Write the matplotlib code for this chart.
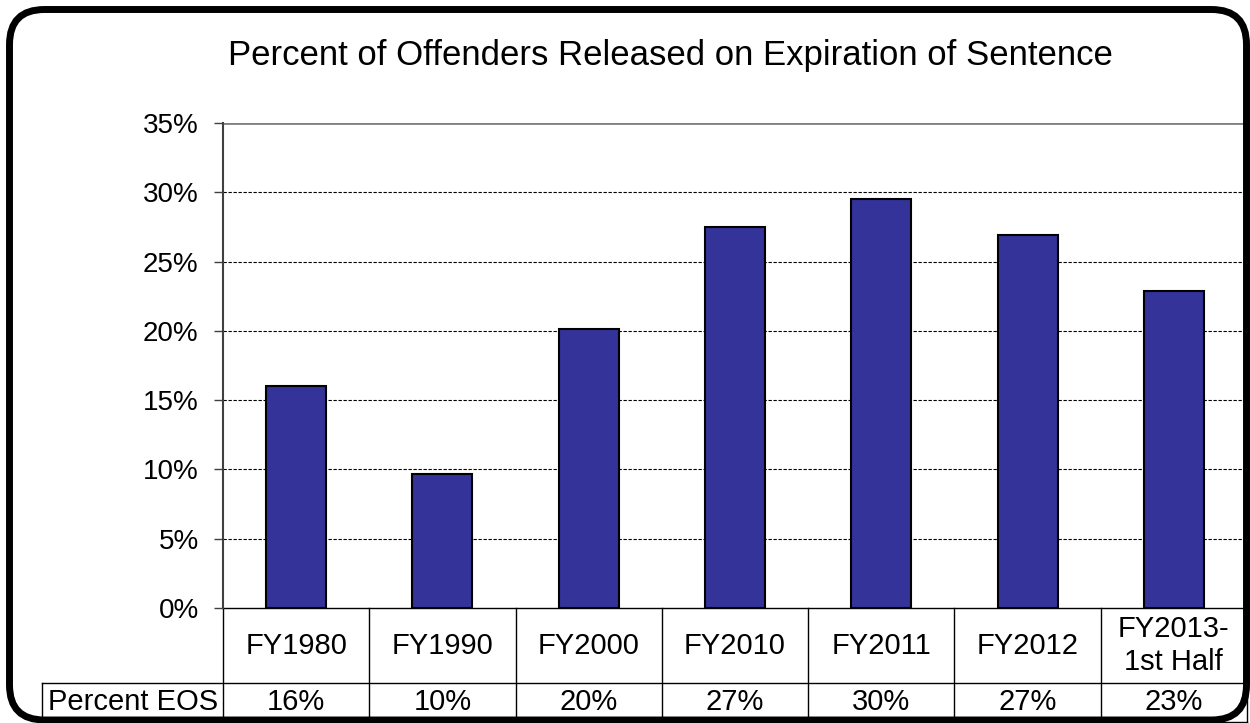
import matplotlib
matplotlib.use('Agg')
import matplotlib.pyplot as plt
from matplotlib.patches import FancyBboxPatch
import matplotlib.transforms as mtransforms

categories = ['FY1980', 'FY1990', 'FY2000', 'FY2010', 'FY2011', 'FY2012', 'FY2013-\n1st Half']
eos_values = [16.0, 9.7, 20.1, 27.5, 29.5, 26.9, 22.9]
eos_labels = ['16%', '10%', '20%', '27%', '30%', '27%', '23%']
yticks = [0, 5, 10, 15, 20, 25, 30, 35]

plt.rcParams['font.family'] = ['Liberation Sans', 'DejaVu Sans']

fig = plt.figure(figsize=(12.5, 7.23), dpi=100)
ax = fig.add_axes([223 / 1250, 1 - 608 / 723, 1024 / 1250, 485 / 723])

x = list(range(len(categories)))
ax.bar(x, eos_values, width=0.41, color='#333399', edgecolor='black', linewidth=1.5, zorder=3)

ax.set_xlim(-0.5, len(categories) - 0.5)
ax.set_ylim(0, 35)
ax.set_yticks(yticks)
ax.set_yticklabels([f'{v}%' for v in yticks], fontsize=20)
ax.tick_params(axis='y', direction='out', length=6.5, width=1, pad=11, colors='#404040', labelcolor='black')
ax.set_xticks([])

for v in yticks[1:-1]:
    ax.axhline(v, color='black', linestyle=(0, (3, 1.5)), linewidth=0.8, zorder=1)
ax.axhline(35, color='#808080', linewidth=2, zorder=1)

for s in ['top', 'right', 'bottom']:
    ax.spines[s].set_visible(False)
ax.spines['left'].set_color('#404040')
ax.spines['left'].set_linewidth(1.5)

# data table beneath the plot
trans = mtransforms.blended_transform_factory(ax.transData, ax.transAxes)
y_hdr = 0.0
y_mid = -75 / 485
y_bot = -114 / 485
x_left = -1.737
x_right = len(categories) - 0.5
lkw = dict(color='black', linewidth=1, transform=trans, clip_on=False)
ax.plot([-0.5, x_right], [y_hdr, y_hdr], **lkw)
ax.plot([x_left, x_right], [y_mid, y_mid], **lkw)
ax.plot([x_left, x_right], [y_bot, y_bot], **lkw)
ax.plot([x_left, x_left], [y_mid, y_bot], **lkw)
for i in range(len(categories) + 1):
    ax.plot([i - 0.5, i - 0.5], [y_hdr, y_bot], **lkw)

for i, (c, lab) in enumerate(zip(categories, eos_labels)):
    ax.text(i, (y_hdr + y_mid) / 2, c, ha='center', va='center', fontsize=21,
            transform=trans, linespacing=1.2)
    ax.text(i, (y_mid + y_bot) / 2, lab, ha='center', va='center', fontsize=21, transform=trans)
ax.text(x_left + 0.04, (y_mid + y_bot) / 2, 'Percent EOS', ha='left', va='center',
        fontsize=21, transform=trans)

fig.text(670 / 1250, 1 - 56 / 723, 'Percent of Offenders Released on Expiration of Sentence',
         ha='center', va='center', fontsize=25)

# rounded outer frame (inches)
frame = FancyBboxPatch((0.095, 0.03), 12.37, 7.105,
                       boxstyle='round,pad=0,rounding_size=0.35',
                       transform=fig.dpi_scale_trans, facecolor='none', edgecolor='black',
                       linewidth=5)
fig.patches.append(frame)

fig.savefig('out.png', dpi=100)
